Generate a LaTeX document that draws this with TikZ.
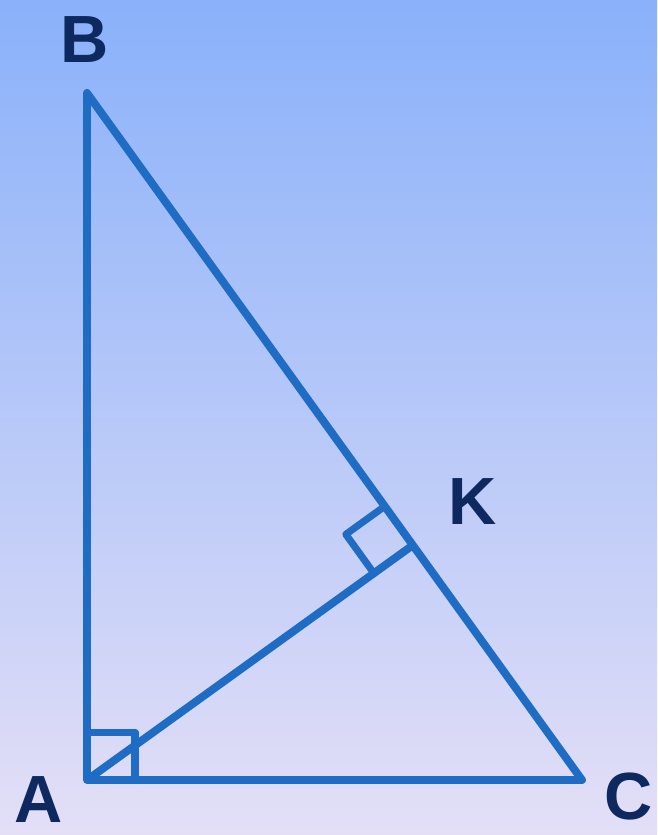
\documentclass[tikz,border=0pt]{standalone}
\usepackage{fontspec}
\setmainfont{Liberation Sans}
\usepackage{xcolor}
\definecolor{skytop}{HTML}{8AB1FA}
\definecolor{skymid}{HTML}{B8CBF8}
\definecolor{skybot}{HTML}{E4DFF7}
\definecolor{edge}{HTML}{1F6CC5}
\definecolor{ink}{HTML}{0E2860}
\usetikzlibrary{calc}

\begin{document}
\begin{tikzpicture}[x=0.02cm, y=-0.02cm, font=\bfseries\fontsize{38}{40}\selectfont,
	vertex/.style={ink, inner sep=0pt}]

	% ================= Background =================
	\useasboundingbox (0,0) rectangle (657,835);
	\shade[top color=skytop, middle color=skymid, bottom color=skybot]
	(0,0) rectangle (657,835);

	% ================= Triangle ABC with altitude AK =================
	\begin{scope}
		\coordinate (A) at (87,780);
		\coordinate (B) at (87,93);
		\coordinate (C) at (582,780);
		\coordinate (K) at ($(B)!(A)!(C)$);

		\draw[edge, line width=4.5pt, line join=round] (A) -- (B) -- (C) -- cycle;
		\draw[edge, line width=4.5pt] (A) -- (K);

		% right angle at A
		\coordinate (A1) at ($(A)!0.96cm!(B)$);
		\coordinate (A2) at ($(A)!0.96cm!(C)$);
		\draw[edge, line width=4pt, line join=round]
		(A1) -- ($(A1)+(A2)-(A)$) -- (A2);

		% right angle at K
		\coordinate (K1) at ($(K)!0.96cm!(B)$);
		\coordinate (K2) at ($(K)!0.96cm!(A)$);
		\draw[edge, line width=4pt, line join=round]
		(K1) -- ($(K1)+(K2)-(K)$) -- (K2);

		\node[vertex] (labB) at (85,40) {B};
		\node[vertex] (labK) at (473,502) {K};
		\node[vertex] (labA) at (39,800) {A};
		\node[vertex] (labC) at (629,797) {C};
	\end{scope}

\end{tikzpicture}
\end{document}
